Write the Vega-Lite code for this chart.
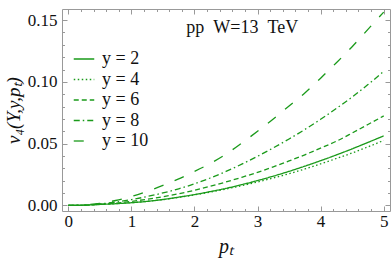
{
  "$schema": "https://vega.github.io/schema/vega-lite/v6.json",
  "width": 328,
  "height": 202,
  "autosize": "none",
  "padding": {"left": 62, "top": 9, "right": 2, "bottom": 53},
  "background": "white",
  "config": {
    "view": {"stroke": null},
    "font": "Liberation Serif",
    "axis": {
      "domainColor": "#999999",
      "tickColor": "#999999",
      "labelFont": "Liberation Serif",
      "labelFontSize": 17,
      "labelColor": "#111111",
      "grid": false,
      "labelOverlap": false,
      "labelFlush": false
    }
  },
  "datasets": {
    "curves": [
      {"pT": 0, "v": 0, "s": "y = 2"}, {"pT": 0.25, "v": 0.0002, "s": "y = 2"}, {"pT": 0.5, "v": 0.0008, "s": "y = 2"}, {"pT": 0.75, "v": 0.0014, "s": "y = 2"}, {"pT": 1, "v": 0.0022, "s": "y = 2"}, {"pT": 1.25, "v": 0.0033, "s": "y = 2"}, {"pT": 1.5, "v": 0.0048, "s": "y = 2"}, {"pT": 1.75, "v": 0.0067, "s": "y = 2"}, {"pT": 2, "v": 0.0088, "s": "y = 2"}, {"pT": 2.25, "v": 0.0112, "s": "y = 2"}, {"pT": 2.5, "v": 0.0138, "s": "y = 2"}, {"pT": 2.75, "v": 0.0168, "s": "y = 2"}, {"pT": 3, "v": 0.0201, "s": "y = 2"}, {"pT": 3.25, "v": 0.0237, "s": "y = 2"}, {"pT": 3.5, "v": 0.0276, "s": "y = 2"}, {"pT": 3.75, "v": 0.0318, "s": "y = 2"}, {"pT": 4, "v": 0.0362, "s": "y = 2"}, {"pT": 4.25, "v": 0.0409, "s": "y = 2"}, {"pT": 4.5, "v": 0.0458, "s": "y = 2"}, {"pT": 4.75, "v": 0.051, "s": "y = 2"}, {"pT": 5, "v": 0.0563, "s": "y = 2"},
      {"pT": 0, "v": 0, "s": "y = 4"}, {"pT": 0.25, "v": 0.0002, "s": "y = 4"}, {"pT": 0.5, "v": 0.0009, "s": "y = 4"}, {"pT": 0.75, "v": 0.0014, "s": "y = 4"}, {"pT": 1, "v": 0.0022, "s": "y = 4"}, {"pT": 1.25, "v": 0.0033, "s": "y = 4"}, {"pT": 1.5, "v": 0.0047, "s": "y = 4"}, {"pT": 1.75, "v": 0.0065, "s": "y = 4"}, {"pT": 2, "v": 0.0085, "s": "y = 4"}, {"pT": 2.25, "v": 0.0108, "s": "y = 4"}, {"pT": 2.5, "v": 0.0133, "s": "y = 4"}, {"pT": 2.75, "v": 0.016, "s": "y = 4"}, {"pT": 3, "v": 0.019, "s": "y = 4"}, {"pT": 3.25, "v": 0.0222, "s": "y = 4"}, {"pT": 3.5, "v": 0.0257, "s": "y = 4"}, {"pT": 3.75, "v": 0.0295, "s": "y = 4"}, {"pT": 4, "v": 0.0337, "s": "y = 4"}, {"pT": 4.25, "v": 0.038, "s": "y = 4"}, {"pT": 4.5, "v": 0.0425, "s": "y = 4"}, {"pT": 4.75, "v": 0.0474, "s": "y = 4"}, {"pT": 5, "v": 0.0526, "s": "y = 4"},
      {"pT": 0, "v": 0, "s": "y = 6"}, {"pT": 0.25, "v": 0.0002, "s": "y = 6"}, {"pT": 0.5, "v": 0.001, "s": "y = 6"}, {"pT": 0.75, "v": 0.0019, "s": "y = 6"}, {"pT": 1, "v": 0.0033, "s": "y = 6"}, {"pT": 1.25, "v": 0.005, "s": "y = 6"}, {"pT": 1.5, "v": 0.0071, "s": "y = 6"}, {"pT": 1.75, "v": 0.0095, "s": "y = 6"}, {"pT": 2, "v": 0.0123, "s": "y = 6"}, {"pT": 2.25, "v": 0.0155, "s": "y = 6"}, {"pT": 2.5, "v": 0.019, "s": "y = 6"}, {"pT": 2.75, "v": 0.0228, "s": "y = 6"}, {"pT": 3, "v": 0.0268, "s": "y = 6"}, {"pT": 3.25, "v": 0.0313, "s": "y = 6"}, {"pT": 3.5, "v": 0.036, "s": "y = 6"}, {"pT": 3.75, "v": 0.041, "s": "y = 6"}, {"pT": 4, "v": 0.0464, "s": "y = 6"}, {"pT": 4.25, "v": 0.052, "s": "y = 6"}, {"pT": 4.5, "v": 0.0586, "s": "y = 6"}, {"pT": 4.75, "v": 0.0655, "s": "y = 6"}, {"pT": 5, "v": 0.0725, "s": "y = 6"},
      {"pT": 0, "v": 0, "s": "y = 8"}, {"pT": 0.25, "v": 0.0003, "s": "y = 8"}, {"pT": 0.5, "v": 0.0012, "s": "y = 8"}, {"pT": 0.75, "v": 0.0027, "s": "y = 8"}, {"pT": 1, "v": 0.0047, "s": "y = 8"}, {"pT": 1.25, "v": 0.0072, "s": "y = 8"}, {"pT": 1.5, "v": 0.0101, "s": "y = 8"}, {"pT": 1.75, "v": 0.0135, "s": "y = 8"}, {"pT": 2, "v": 0.0175, "s": "y = 8"}, {"pT": 2.25, "v": 0.0222, "s": "y = 8"}, {"pT": 2.5, "v": 0.0275, "s": "y = 8"}, {"pT": 2.75, "v": 0.0334, "s": "y = 8"}, {"pT": 3, "v": 0.0398, "s": "y = 8"}, {"pT": 3.25, "v": 0.0466, "s": "y = 8"}, {"pT": 3.5, "v": 0.0538, "s": "y = 8"}, {"pT": 3.75, "v": 0.0615, "s": "y = 8"}, {"pT": 4, "v": 0.0697, "s": "y = 8"}, {"pT": 4.25, "v": 0.0785, "s": "y = 8"}, {"pT": 4.5, "v": 0.0878, "s": "y = 8"}, {"pT": 4.75, "v": 0.0978, "s": "y = 8"}, {"pT": 5, "v": 0.1085, "s": "y = 8"},
      {"pT": 0, "v": 0, "s": "y = 10"}, {"pT": 0.25, "v": 0.0004, "s": "y = 10"}, {"pT": 0.5, "v": 0.0017, "s": "y = 10"}, {"pT": 0.75, "v": 0.004, "s": "y = 10"}, {"pT": 1, "v": 0.0072, "s": "y = 10"}, {"pT": 1.25, "v": 0.0114, "s": "y = 10"}, {"pT": 1.5, "v": 0.0162, "s": "y = 10"}, {"pT": 1.75, "v": 0.0215, "s": "y = 10"}, {"pT": 2, "v": 0.0275, "s": "y = 10"}, {"pT": 2.25, "v": 0.034, "s": "y = 10"}, {"pT": 2.5, "v": 0.0415, "s": "y = 10"}, {"pT": 2.75, "v": 0.0505, "s": "y = 10"}, {"pT": 3, "v": 0.06, "s": "y = 10"}, {"pT": 3.25, "v": 0.07, "s": "y = 10"}, {"pT": 3.5, "v": 0.0805, "s": "y = 10"}, {"pT": 3.75, "v": 0.091, "s": "y = 10"}, {"pT": 4, "v": 0.103, "s": "y = 10"}, {"pT": 4.25, "v": 0.1155, "s": "y = 10"}, {"pT": 4.5, "v": 0.1285, "s": "y = 10"}, {"pT": 4.75, "v": 0.1425, "s": "y = 10"}, {"pT": 5, "v": 0.1565, "s": "y = 10"}
    ],
    "note": [{"pT": 1.87, "v": 0.1435, "label": "pp\u00a0\u00a0W=13\u00a0\u00a0TeV"}]
  },
  "layer": [
    {
      "data": {"name": "curves"},
      "mark": {"type": "line", "color": "#1a9a1a", "strokeWidth": 1.3, "interpolate": "monotone"},
      "encoding": {
        "x": {
          "field": "pT", "type": "quantitative",
          "scale": {"domain": [-0.1, 5.1], "nice": false, "zero": false},
          "axis": {
            "orient": "bottom",
            "values": [0,0.2,0.4,0.6,0.8,1,1.2,1.4,1.6,1.8,2,2.2,2.4,2.6,2.8,3,3.2,3.4,3.6,3.8,4,4.2,4.4,4.6,4.8,5],
            "labelExpr": "abs(datum.value - round(datum.value)) < 0.001 ? format(datum.value, 'd') : ''",
            "tickSize": {"condition": {"test": "abs(datum.value - round(datum.value)) < 0.001", "value": -5}, "value": -2.5},
            "labelPadding": 7,
            "title": "pₜ",
            "titleFont": "Liberation Serif",
            "titleFontStyle": "italic",
            "titleFontWeight": "normal",
            "titleFontSize": 20,
            "titlePadding": 5,
            "titleColor": "#111111"
          }
        },
        "y": {
          "field": "v", "type": "quantitative",
          "scale": {"domain": [-0.0045, 0.159], "nice": false, "zero": false},
          "axis": {
            "orient": "left",
            "values": [0,0.01,0.02,0.03,0.04,0.05,0.06,0.07,0.08,0.09,0.1,0.11,0.12,0.13,0.14,0.15],
            "labelExpr": "abs(datum.value*20 - round(datum.value*20)) < 0.001 ? format(datum.value, '.2f') : ''",
            "tickSize": {"condition": {"test": "abs(datum.value*20 - round(datum.value*20)) < 0.001", "value": -5}, "value": -2.5},
            "labelPadding": 10,
            "title": "v₄(Y,y,pₜ)",
            "titleFont": "Liberation Serif",
            "titleFontStyle": "italic",
            "titleFontWeight": "normal",
            "titleFontSize": 19,
            "titlePadding": 4,
            "titleColor": "#111111"
          }
        },
        "strokeDash": {
          "field": "s", "type": "nominal",
          "scale": {
            "domain": ["y = 2", "y = 4", "y = 6", "y = 8", "y = 10"],
            "range": [[1, 0], [1.5, 2.5], [5, 3], [6, 3, 1.5, 3], [10, 12]]
          },
          "legend": {
            "orient": "none",
            "legendX": 11,
            "legendY": 39,
            "title": null,
            "padding": 0,
            "symbolType": "stroke",
            "symbolSize": 420,
            "symbolStrokeColor": "#1a9a1a",
            "symbolStrokeWidth": 1.3,
            "labelFont": "Liberation Serif",
            "labelFontSize": 18,
            "labelColor": "#111111",
            "labelOffset": 7,
            "rowPadding": 0.5
          }
        }
      }
    },
    {
      "data": {"name": "note"},
      "mark": {"type": "text", "align": "left", "baseline": "middle", "font": "Liberation Serif", "fontSize": 18, "color": "#111111"},
      "encoding": {
        "x": {"field": "pT", "type": "quantitative", "axis": {"orient": "top", "values": [0,0.2,0.4,0.6,0.8,1,1.2,1.4,1.6,1.8,2,2.2,2.4,2.6,2.8,3,3.2,3.4,3.6,3.8,4,4.2,4.4,4.6,4.8,5], "labels": false, "title": null, "tickSize": {"condition": {"test": "abs(datum.value - round(datum.value)) < 0.001", "value": -5}, "value": -2.5}}},
        "y": {"field": "v", "type": "quantitative", "axis": {"orient": "right", "values": [0,0.01,0.02,0.03,0.04,0.05,0.06,0.07,0.08,0.09,0.1,0.11,0.12,0.13,0.14,0.15], "labels": false, "title": null, "tickSize": {"condition": {"test": "abs(datum.value*20 - round(datum.value*20)) < 0.001", "value": -5}, "value": -2.5}}},
        "text": {"field": "label"}
      }
    }
  ]
}
